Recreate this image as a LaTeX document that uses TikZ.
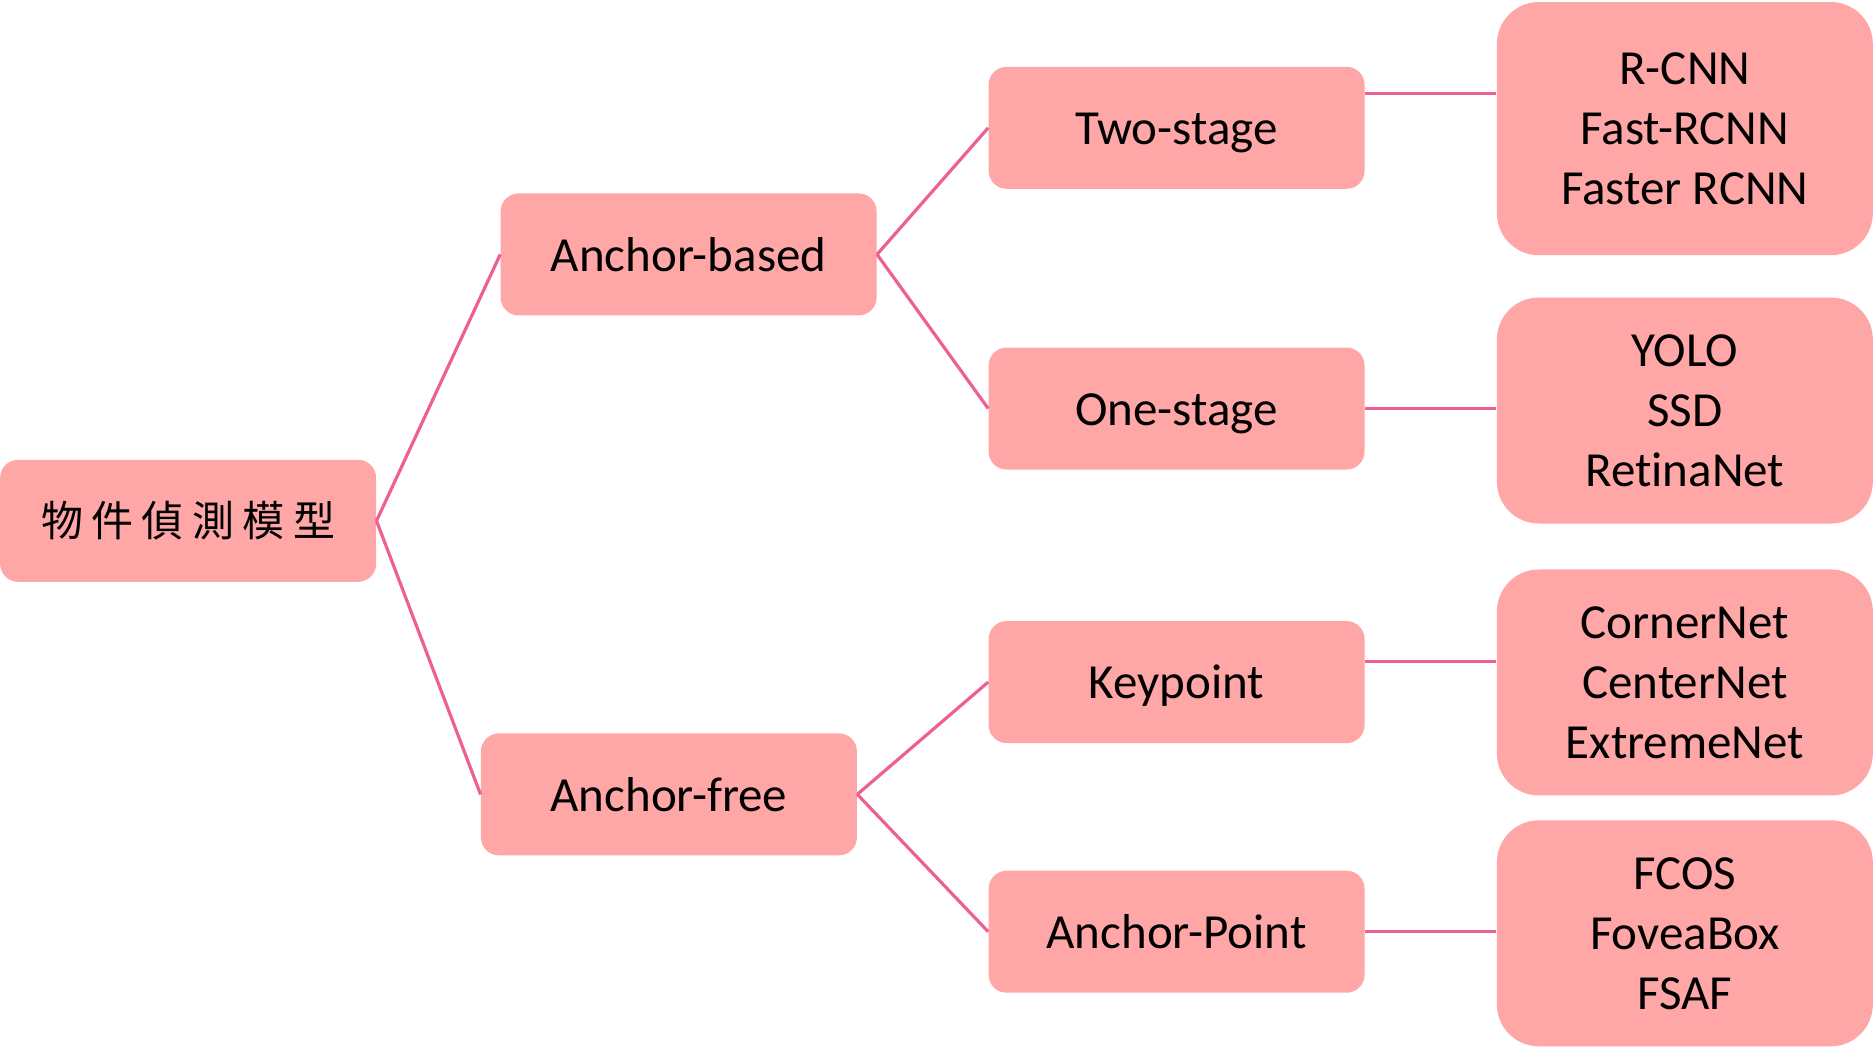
\documentclass[tikz,border=0pt]{standalone}
\usepackage{fontspec}
\setmainfont{Carlito}[Ligatures=NoCommon]
\newfontfamily\cjk[LetterSpace=20]{Noto Sans CJK TC}
\definecolor{boxfill}{RGB}{255,166,166}
\definecolor{linkc}{RGB}{236,96,148}
\begin{document}
\begin{tikzpicture}[x=0.5973pt,y=-0.5973pt,
  box/.style={fill=boxfill, rounded corners=9pt, minimum width=188pt, minimum height=61pt,
    inner sep=0pt, text=black, font=\fontsize{24.5}{30}\selectfont, align=center},
  midbox/.style={box, text height=16.8pt, text depth=0pt},
  listbox/.style={box, rounded corners=21pt, minimum height=113pt},
  link/.style={draw=linkc, line width=1.6pt}]
\useasboundingbox (0,0) rectangle (1568,881);
\node[box] (root) at (157.5,436) {\cjk\fontsize{21}{25}\selectfont 物件偵測模型};
\node[midbox] (ab) at (576.5,213) {Anchor-based};
\node[midbox] (af) at (560,665) {Anchor-free};
\node[midbox] (ts) at (985,107) {Two-stage};
\node[midbox] (os) at (985,342) {One-stage};
\node[midbox] (kp) at (985,571) {Keypoint};
\node[midbox] (ap) at (985,780) {Anchor-Point};
\node[listbox, minimum height=126.6pt, yshift=-1pt] (l1) at (1410.5,106) {R-CNN\\Fast-RCNN\\Faster RCNN};
\node[listbox, yshift=-1pt] (l2) at (1410.5,342) {YOLO\\SSD\\RetinaNet};
\node[listbox, yshift=-0.5pt] (l3) at (1410.5,570.5) {CornerNet\\CenterNet\\ExtremeNet};
\node[listbox, yshift=-0.5pt] (l4) at (1410.5,780.5) {FCOS\\FoveaBox\\FSAF};
\draw[link] (root.east) -- (ab.west);
\draw[link] (root.east) -- (af.west);
\draw[link] (ab.east) -- (ts.west);
\draw[link] (ab.east) -- (os.west);
\draw[link] (af.east) -- (kp.west);
\draw[link] (af.east) -- (ap.west);
\draw[link] ([yshift=17.3pt]ts.east) -- ([yshift=17.3pt]ts.east -| l1.west);
\draw[link] (os.east) -- (os.east -| l2.west);
\draw[link] ([yshift=10.2pt]kp.east) -- ([yshift=10.2pt]kp.east -| l3.west);
\draw[link] (ap.east) -- (ap.east -| l4.west);
\end{tikzpicture}
\end{document}
